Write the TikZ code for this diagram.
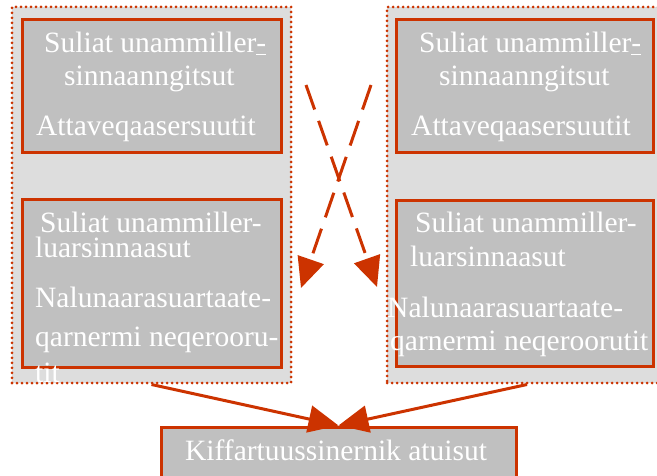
\documentclass[tikz,border=0pt]{standalone}
\usepackage{fontspec}
\setmainfont{Liberation Serif}
\usetikzlibrary{shapes,arrows,arrows.meta}
\definecolor{rust}{HTML}{CC3300}
\definecolor{boxgray}{HTML}{C0C0C0}
\definecolor{panelgray}{HTML}{DDDDDD}
\tikzstyle{panel} = [draw=rust, fill=panelgray, rectangle, line width=3pt,
    dash pattern=on 0pt off 5pt, line cap=round, inner sep=0pt]
\tikzstyle{block} = [draw=rust, fill=boxgray, rectangle, line width=3pt, inner sep=0pt]
\tikzstyle{txt} = [text=white, anchor=base west, inner sep=0pt,
    font=\fontsize{29.5}{34}\selectfont]
\tikzstyle{link} = [draw=rust, line width=3pt, -{Triangle[length=30pt,width=27pt]}]

\begin{document}
\begin{tikzpicture}[x=1pt,y=-1pt]
\useasboundingbox (0,0) rectangle (657,476);

\coordinate (dA) at (306,85);
\coordinate (dB) at (371,85);
\coordinate (eA) at (377,287);
\coordinate (eB) at (301,288);

% the two panels
\node[panel, minimum width=279pt, minimum height=376pt, name=grpL] at (151.5,195) {};
\node[panel, minimum width=280pt, minimum height=376pt, name=grpR] at (527,195) {};

\node[block, minimum width=259pt, minimum height=133pt, name=topL] at (151.5,86.5) {};
\node[block, minimum width=259pt, minimum height=167pt, name=botL] at (151.5,283.5) {};
\node[block, minimum width=257pt, minimum height=133pt, name=topR] at (524.5,86.5) {};
\node[block, minimum width=257pt, minimum height=165pt, name=botR] at (524.5,283.5) {};
\node[block, minimum width=355pt, minimum height=60pt, name=kif] at (338.5,457) {};

% left panel texts
\node[txt, name=topL1] at (44,53) {Suliat unammiller\underline{-}};
\node[txt, name=topL2] at (64,86) {sinnaanngitsut};
\node[txt, name=topL3] at (36,136) {Attaveqaasersuutit};
\node[txt, name=botL1] at (40,233) {Suliat unammiller-};
\node[txt, name=botL2] at (35,258) {luarsinnaasut};
\node[txt, name=botL3] at (35,308) {Nalunaarasuartaate-};
\node[txt, name=botL4] at (35,347) {qarnermi neqerooru-};
\node[txt, name=botL5] at (35,382) {tit};

% right panel texts
\node[txt, name=topR1] at (419,53) {Suliat unammiller\underline{-}};
\node[txt, name=topR2] at (439,86) {sinnaanngitsut};
\node[txt, name=topR3] at (411,136) {Attaveqaasersuutit};
\node[txt, name=botR1] at (415,233) {Suliat unammiller-};
\node[txt, name=botR2] at (410,267) {luarsinnaasut};
\node[txt, name=botR3] at (387,318) {Nalunaarasuartaate-};
\node[txt, name=botR4] at (390,351) {qarnermi neqeroorutit};

\node[txt, name=kifTxt] at (185,460) {Kiffartuussinernik atuisut};

\draw[link, dash pattern=on 26pt off 12pt] (dA) -- (eA);
\draw[link, dash pattern=on 26pt off 12pt] (dB) -- (eB);
\draw[link] (grpL.south) -- (kif.north);
\draw[link] (grpR.south) -- (kif.north);

\end{tikzpicture}
\end{document}
